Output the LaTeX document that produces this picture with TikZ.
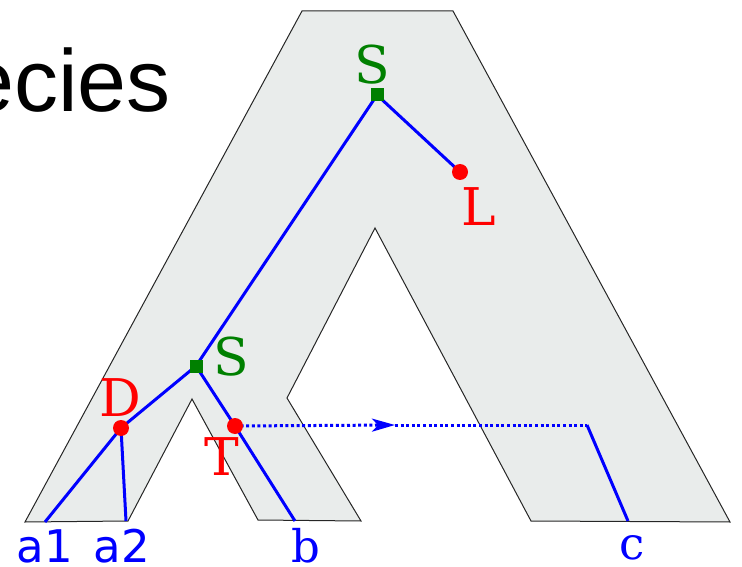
\documentclass[tikz,border=0pt]{standalone}
\usepackage{fontspec}
\setmainfont{DejaVu Serif}
\setsansfont{DejaVu Sans}
\newfontfamily\titlefont{Liberation Sans}
\usetikzlibrary{arrows.meta}

\definecolor{treegray}{RGB}{233,236,235}
\definecolor{specgreen}{RGB}{0,128,0}

\begin{document}
\begin{tikzpicture}[x=1pt, y=-1pt,
  speciestree/.style={draw=black!85, line width=1pt, fill=treegray},
  genebranch/.style={draw=blue, line width=3pt},
  transfer/.style={draw=blue, line width=3pt, dash pattern=on 3pt off 2.6pt},
  specnode/.style={rectangle, fill=specgreen, inner sep=0pt, minimum size=13pt},
  eventnode/.style={circle, fill=red, inner sep=0pt, minimum size=16pt},
  evlabel/.style={font=\fontsize{52}{52}\selectfont, inner sep=0pt},
  leaflabel/.style={font=\fontsize{45}{45}\selectfont, text=blue, inner sep=0pt, anchor=base}]
  \useasboundingbox (0,0) rectangle (742,567);
  % Title (cut at the left edge)
  \node[font=\titlefont\fontsize{88}{88}\selectfont, anchor=base east, inner sep=0pt] (title) at (171,112) {ecies};
  % Species tree
  \draw[speciestree] (302,11) -- (453,11) -- (730,522) -- (531,521) -- (375,228)
    -- (287,398) -- (361,521) -- (258,520) -- (192,399) -- (128,521) -- (25,522) -- cycle;
  % Gene tree nodes
  \coordinate (sroot) at (377,95);
  \coordinate (loss) at (460,172);
  \coordinate (slow) at (196,366);
  \coordinate (dup) at (121,428);
  \coordinate (trans) at (235,426);
  \coordinate (la1) at (45,522);
  \coordinate (la2) at (126,521);
  \coordinate (lb) at (295,521);
  \coordinate (tarrow) at (395,425);
  \coordinate (tturn) at (587,425);
  \coordinate (lc) at (628,521);
  % Gene tree branches
  \draw[genebranch] (sroot) -- (loss);
  \draw[genebranch] (sroot) -- (slow) -- (dup) -- (la1);
  \draw[genebranch] (dup) -- (la2);
  \draw[genebranch] (slow) -- (trans) -- (lb);
  \draw[genebranch] (tturn) -- (lc);
  % Transfer
  \draw[transfer, -{Stealth[length=23pt, width=13pt, inset=6pt]}] (trans) -- (tarrow);
  \draw[transfer] (tarrow) -- (tturn);
  % Events
  \node[specnode] (sq1) at (sroot) {};
  \node[specnode] (sq2) at (slow) {};
  \node[eventnode] (dot1) at (loss) {};
  \node[eventnode] (dot2) at (dup) {};
  \node[eventnode] (dot3) at (trans) {};
  \node[evlabel, text=specgreen] (s1lab) at (372,65) {S};
  \node[evlabel, text=specgreen] (s2lab) at (231,357) {S};
  \node[evlabel, text=red] (llab) at (479,207) {L};
  \node[evlabel, text=red] (dlab) at (120,398) {D};
  \node[evlabel, text=red] (tlab) at (222,457) {T};
  % Leaves
  \node[leaflabel, font=\sffamily\fontsize{45}{45}\selectfont] (a1) at (45,562) {a1};
  \node[leaflabel, font=\sffamily\fontsize{45}{45}\selectfont] (a2) at (122,562) {a2};
  \node[leaflabel] (b) at (306,562) {b};
  \node[leaflabel] (c) at (632,559) {c};
\end{tikzpicture}
\end{document}
